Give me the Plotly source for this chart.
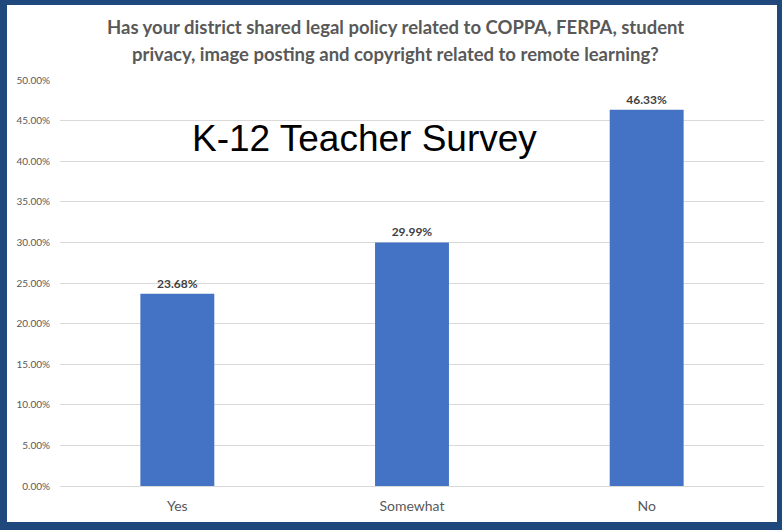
import plotly.graph_objects as go

# Survey responses
categories = ["Yes", "Somewhat", "No"]
shares = [0.2368, 0.2999, 0.4633]
y_ticks = [0, 0.05, 0.10, 0.15, 0.20, 0.25, 0.30, 0.35, 0.40, 0.45, 0.50]
title_lines = [
    "Has your district shared legal policy related to COPPA, FERPA, student",
    "privacy, image posting and copyright related to remote learning?",
]

W, H = 782, 530
ML, MR, MT, MB = 60, 18, 80, 44
PW, PH = W - ML - MR, H - MT - MB


def px_x(px):
    return (px - ML) / PW


def px_y(py):
    return (H - MB - py) / PH


fig = go.Figure(
    go.Bar(
        x=categories,
        y=shares,
        marker=dict(color="#4472C4", line=dict(width=0)),
        text=[f"{v:.2%}" for v in shares],
        textposition="outside",
        textfont=dict(family="Lato", size=12, color="#404040", weight="bold"),
        cliponaxis=False,
        hoverinfo="skip",
    )
)

title_annotations = [
    dict(
        text=line,
        xref="paper",
        yref="paper",
        x=px_x(395),
        y=px_y(yc),
        xanchor="center",
        yanchor="middle",
        showarrow=False,
        font=dict(family="Lato", size=18.5, color="#595959", weight="bold"),
    )
    for line, yc in zip(title_lines, [27, 54])
]

fig.update_layout(
    width=W,
    height=H,
    margin=dict(l=ML, r=MR, t=MT, b=MB),
    paper_bgcolor="#1F497D",
    plot_bgcolor="white",
    bargap=0.685,
    showlegend=False,
    xaxis=dict(
        showgrid=False,
        showline=False,
        ticks="",
        ticklabelstandoff=10,
        tickfont=dict(family="Lato", size=14, color="#595959"),
    ),
    yaxis=dict(
        range=[0, 0.5],
        tickvals=y_ticks,
        tickformat=".2%",
        showgrid=True,
        gridcolor="#D9D9D9",
        gridwidth=1,
        zeroline=True,
        zerolinecolor="#D9D9D9",
        zerolinewidth=1,
        showline=False,
        ticks="",
        ticklabelstandoff=9,
        tickfont=dict(family="Lato", size=10, color="#595959"),
    ),
    shapes=[
        dict(
            type="rect",
            xref="paper",
            yref="paper",
            x0=px_x(7),
            x1=px_x(777),
            y0=px_y(522),
            y1=px_y(5),
            fillcolor="white",
            line=dict(width=0),
            layer="below",
        )
    ],
    annotations=title_annotations + [
        dict(
            text="K-12 Teacher Survey",
            xref="paper",
            yref="paper",
            x=px_x(364),
            y=px_y(138),
            xanchor="center",
            yanchor="middle",
            showarrow=False,
            font=dict(family="Liberation Sans", size=37, color="black"),
        ),
    ],
)

fig.write_html("out.html")
